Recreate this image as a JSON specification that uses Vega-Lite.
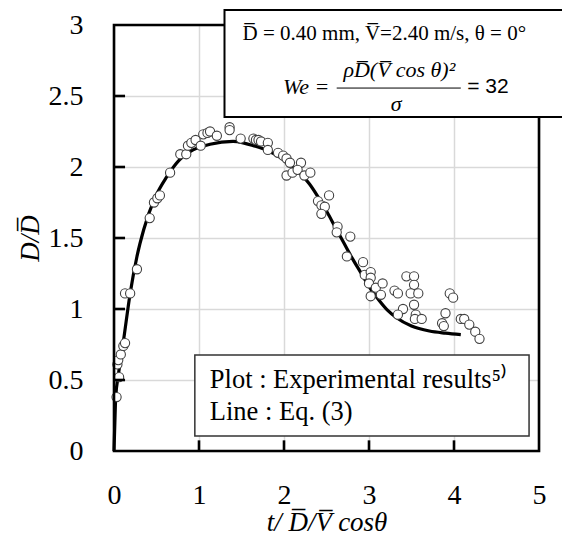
{
  "$schema": "https://vega.github.io/schema/vega-lite/v6.json",
  "width": 425,
  "height": 426,
  "autosize": {"type": "none"},
  "padding": {"left": 114, "top": 25, "right": 23, "bottom": 93},
  "background": "white",
  "config": {
    "view": {"stroke": null},
    "font": "Liberation Serif",
    "axis": {
      "labelFont": "Liberation Serif",
      "labelFontSize": 28,
      "labelColor": "black",
      "labelFlush": false,
      "titleFont": "Liberation Serif",
      "titleFontSize": 27,
      "titleFontStyle": "italic",
      "titleFontWeight": "normal",
      "titleColor": "black",
      "domain": false,
      "gridColor": "#d9d9d9",
      "gridWidth": 1.5,
      "ticks": false
    }
  },
  "datasets": {
    "pts": [
      {"x":0.03,"y":0.38},{"x":0.06,"y":0.52},{"x":0.04,"y":0.61},{"x":0.05,"y":0.64},{"x":0.08,"y":0.68},{"x":0.11,"y":0.74},{"x":0.13,"y":0.76},{"x":0.13,"y":1.11},{"x":0.19,"y":1.11},{"x":0.27,"y":1.28},
      {"x":0.42,"y":1.64},{"x":0.47,"y":1.75},{"x":0.51,"y":1.78},{"x":0.54,"y":1.80},{"x":0.66,"y":1.96},{"x":0.78,"y":2.09},{"x":0.85,"y":2.09},{"x":0.87,"y":2.15},{"x":0.91,"y":2.17},{"x":0.96,"y":2.19},
      {"x":1.02,"y":2.15},{"x":1.05,"y":2.23},{"x":1.10,"y":2.24},{"x":1.13,"y":2.25},{"x":1.21,"y":2.22},{"x":1.36,"y":2.28},{"x":1.36,"y":2.26},{"x":1.49,"y":2.20},{"x":1.64,"y":2.20},{"x":1.67,"y":2.19},
      {"x":1.70,"y":2.19},{"x":1.73,"y":2.18},{"x":1.81,"y":2.17},{"x":1.81,"y":2.12},{"x":1.93,"y":2.10},{"x":1.99,"y":2.08},{"x":2.03,"y":2.06},{"x":2.07,"y":2.03},{"x":2.20,"y":2.03},{"x":2.03,"y":1.94},
      {"x":2.10,"y":1.96},{"x":2.16,"y":1.98},{"x":2.24,"y":1.94},{"x":2.31,"y":1.96},{"x":2.53,"y":1.80},{"x":2.40,"y":1.76},{"x":2.44,"y":1.73},{"x":2.48,"y":1.72},{"x":2.44,"y":1.67},{"x":2.63,"y":1.58},
      {"x":2.62,"y":1.54},{"x":2.78,"y":1.51},{"x":2.74,"y":1.37},{"x":2.93,"y":1.33},{"x":2.95,"y":1.24},{"x":3.02,"y":1.26},{"x":3.02,"y":1.22},{"x":3.00,"y":1.18},{"x":3.08,"y":1.15},{"x":3.16,"y":1.18},
      {"x":3.02,"y":1.09},{"x":3.14,"y":1.10},{"x":3.30,"y":1.13},{"x":3.34,"y":1.11},{"x":3.44,"y":1.23},{"x":3.53,"y":1.23},{"x":3.53,"y":1.17},{"x":3.49,"y":1.11},{"x":3.58,"y":1.11},{"x":3.53,"y":1.03},
      {"x":3.40,"y":1.00},{"x":3.34,"y":0.96},{"x":3.55,"y":0.96},{"x":3.54,"y":0.93},{"x":3.62,"y":0.93},{"x":3.90,"y":0.97},{"x":3.86,"y":0.90},{"x":3.88,"y":0.88},{"x":3.95,"y":1.11},{"x":3.99,"y":1.08},
      {"x":4.08,"y":0.93},{"x":4.12,"y":0.93},{"x":4.18,"y":0.89},{"x":4.25,"y":0.84},{"x":4.30,"y":0.79}
    ],
    "curve": [
      {"x":0,"y":0},{"x":0.01,"y":0.2},{"x":0.02,"y":0.38},{"x":0.05,"y":0.53},{"x":0.11,"y":0.77},{"x":0.19,"y":1.11},{"x":0.27,"y":1.37},{"x":0.35,"y":1.56},{"x":0.48,"y":1.78},{"x":0.62,"y":1.93},
      {"x":0.77,"y":2.05},{"x":0.93,"y":2.12},{"x":1.13,"y":2.16},{"x":1.4,"y":2.18},{"x":1.52,"y":2.17},{"x":1.64,"y":2.15},{"x":1.79,"y":2.12},{"x":1.95,"y":2.07},{"x":2.07,"y":2.02},{"x":2.2,"y":1.95},
      {"x":2.3,"y":1.88},{"x":2.4,"y":1.79},{"x":2.5,"y":1.69},{"x":2.6,"y":1.58},{"x":2.7,"y":1.47},{"x":2.8,"y":1.36},{"x":2.9,"y":1.26},{"x":3.0,"y":1.16},{"x":3.12,"y":1.06},{"x":3.22,"y":0.99},
      {"x":3.32,"y":0.94},{"x":3.5,"y":0.88},{"x":3.71,"y":0.845},{"x":3.9,"y":0.83},{"x":4.08,"y":0.82}
    ]
  },
  "layer": [
    {
      "data": {"name": "curve"},
      "mark": {"type": "line", "color": "black", "strokeWidth": 3.2, "interpolate": "monotone"},
      "encoding": {
        "x": {"field": "x", "type": "quantitative", "scale": {"domain": [0, 5], "nice": false},
          "axis": {"values": [0, 1, 2, 3, 4, 5], "format": "~g", "labelPadding": 30, "title": "t/ D\u0305/V\u0305 cosθ", "titlePadding": 0}},
        "y": {"field": "y", "type": "quantitative", "scale": {"domain": [0, 3], "nice": false},
          "axis": {"values": [0, 0.5, 1, 1.5, 2, 2.5, 3], "format": "~g", "labelPadding": 31, "title": "D/D\u0305", "titlePadding": 4}}
      }
    },
    {
      "data": {"name": "pts"},
      "mark": {"type": "point", "shape": "circle", "filled": false, "fill": "white", "fillOpacity": 1, "stroke": "#404040", "strokeWidth": 1.1, "size": 85, "opacity": 1},
      "encoding": {
        "x": {"field": "x", "type": "quantitative"},
        "y": {"field": "y", "type": "quantitative"}
      }
    },
    {
      "data": {"values": [{"v": 0.5}, {"v": 1}, {"v": 1.5}, {"v": 2}, {"v": 2.5}]},
      "mark": {"type": "rule", "color": "black", "strokeWidth": 2.6},
      "encoding": {
        "x": {"datum": 0, "type": "quantitative"},
        "x2": {"datum": 0.13},
        "y": {"field": "v", "type": "quantitative"}
      }
    },
    {
      "data": {"values": [{"v": 1}, {"v": 2}, {"v": 3}, {"v": 4}]},
      "mark": {"type": "rule", "color": "black", "strokeWidth": 2.6},
      "encoding": {
        "x": {"field": "v", "type": "quantitative"},
        "y": {"datum": 0, "type": "quantitative"},
        "y2": {"datum": 0.075}
      }
    },
    {
      "data": {"values": [{"x": 0, "x2": 5, "y": 0, "y2": 3}]},
      "mark": {"type": "rect", "fill": null, "fillOpacity": 0, "stroke": "black", "strokeWidth": 2.6, "clip": false},
      "encoding": {
        "x": {"field": "x", "type": "quantitative"},
        "x2": {"field": "x2"},
        "y": {"field": "y", "type": "quantitative"},
        "y2": {"field": "y2"}
      }
    },
    {
      "data": {"values": [{"x": 1.30, "x2": 5.6, "y": 3.106, "y2": 2.352}]},
      "mark": {"type": "rect", "fill": "white", "stroke": "black", "strokeWidth": 2, "clip": false},
      "encoding": {
        "x": {"field": "x", "type": "quantitative"},
        "x2": {"field": "x2"},
        "y": {"field": "y", "type": "quantitative"},
        "y2": {"field": "y2"}
      }
    },
    {
      "data": {"values": [{"x": 0.951, "x2": 4.883, "y": 0.676, "y2": 0.106}]},
      "mark": {"type": "rect", "fill": "white", "stroke": "#333333", "strokeWidth": 1.5, "clip": false},
      "encoding": {
        "x": {"field": "x", "type": "quantitative"},
        "x2": {"field": "x2"},
        "y": {"field": "y", "type": "quantitative"},
        "y2": {"field": "y2"}
      }
    },
    {
      "data": {"values": [{"x": 3.18, "y": 2.937, "t": "D\u0305 = 0.40 mm, V\u0305=2.40 m/s, θ = 0°"}]},
      "mark": {"type": "text", "font": "Liberation Serif", "fontSize": 21, "color": "black", "align": "center", "baseline": "middle", "clip": false},
      "encoding": {
        "x": {"field": "x", "type": "quantitative"},
        "y": {"field": "y", "type": "quantitative"},
        "text": {"field": "t"}
      }
    },
    {
      "data": {"values": [{"x": 2.535, "y": 2.563, "t": "We ="}]},
      "mark": {"type": "text", "font": "Liberation Serif", "fontSize": 22, "fontStyle": "italic", "color": "black", "align": "right", "baseline": "middle", "clip": false},
      "encoding": {
        "x": {"field": "x", "type": "quantitative"},
        "y": {"field": "y", "type": "quantitative"},
        "text": {"field": "t"}
      }
    },
    {
      "data": {"values": [{"x": 3.357, "y": 2.683, "t": "ρD\u0305(V\u0305 cos θ)²"}]},
      "mark": {"type": "text", "font": "Liberation Serif", "fontSize": 22, "fontStyle": "italic", "color": "black", "align": "center", "baseline": "middle", "clip": false},
      "encoding": {
        "x": {"field": "x", "type": "quantitative"},
        "y": {"field": "y", "type": "quantitative"},
        "text": {"field": "t"}
      }
    },
    {
      "data": {"values": [{"x": 2.62, "x2": 4.08, "y": 2.556}]},
      "mark": {"type": "rule", "color": "black", "strokeWidth": 1, "clip": false},
      "encoding": {
        "x": {"field": "x", "type": "quantitative"},
        "x2": {"field": "x2"},
        "y": {"field": "y", "type": "quantitative"}
      }
    },
    {
      "data": {"values": [{"x": 3.32, "y": 2.444, "t": "σ"}]},
      "mark": {"type": "text", "font": "Liberation Serif", "fontSize": 22, "fontStyle": "italic", "color": "black", "align": "center", "baseline": "middle", "clip": false},
      "encoding": {
        "x": {"field": "x", "type": "quantitative"},
        "y": {"field": "y", "type": "quantitative"},
        "text": {"field": "t"}
      }
    },
    {
      "data": {"values": [{"x": 4.155, "y": 2.563, "t": "= 32"}]},
      "mark": {"type": "text", "font": "Liberation Sans", "fontSize": 21, "color": "black", "align": "left", "baseline": "middle", "clip": false},
      "encoding": {
        "x": {"field": "x", "type": "quantitative"},
        "y": {"field": "y", "type": "quantitative"},
        "text": {"field": "t"}
      }
    },
    {
      "data": {"values": [{"x": 1.127, "y": 0.444, "t": "Plot : Experimental results⁵⁾"}, {"x": 1.127, "y": 0.218, "t": "Line : Eq. (3)"}]},
      "mark": {"type": "text", "font": "Liberation Serif", "fontSize": 26.5, "color": "black", "align": "left", "baseline": "alphabetic", "clip": false},
      "encoding": {
        "x": {"field": "x", "type": "quantitative"},
        "y": {"field": "y", "type": "quantitative"},
        "text": {"field": "t"}
      }
    }
  ]
}
